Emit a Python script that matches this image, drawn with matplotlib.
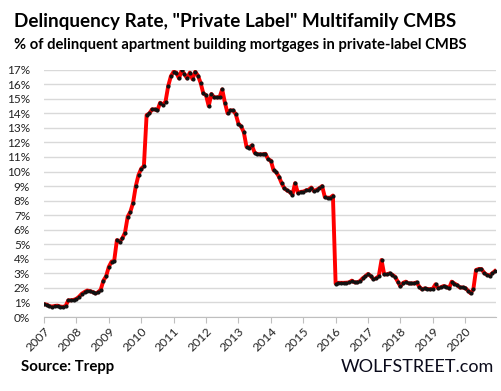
import numpy as np
import matplotlib
matplotlib.use("Agg")
import matplotlib.pyplot as plt
from matplotlib.ticker import FixedLocator

# monthly delinquency rate (%), Jan 2007 .. Dec 2020
rate_2007_2010 = [0.88, 0.85, 0.75, 0.72, 0.76, 0.78, 0.72, 0.70, 0.75, 1.15, 1.15, 1.18,
                  1.25, 1.40, 1.60, 1.72, 1.82, 1.78, 1.72, 1.62, 1.70, 1.88, 2.50, 2.80,
                  3.45, 3.80, 3.87, 5.29, 5.17, 5.40, 5.80, 6.90, 7.24, 7.86, 9.00, 9.76,
                  10.20, 10.38, 13.88, 13.99, 14.27, 14.27, 14.20, 14.73, 14.60, 14.80, 15.88, 16.56]
rate_2011_2012 = [16.86, 16.80, 16.40, 16.97, 16.70, 16.40, 16.80, 16.35, 16.86, 16.60, 16.10, 15.37,
                  15.25, 14.50, 15.33, 15.10, 15.10, 15.10, 15.65, 14.73]
rate_2012_2015 = [14.00, 14.20, 14.20, 13.95,
                  13.30, 13.10, 12.70, 11.70, 11.65, 11.80, 11.30, 11.20, 11.18, 11.18, 11.22, 10.85,
                  10.75, 10.10, 9.95, 9.65, 9.20, 8.85, 8.70, 8.60, 8.40, 9.20, 8.55, 8.60,
                  8.62, 8.70, 8.75, 8.90, 8.65, 8.75, 8.85, 9.00, 8.25, 8.20, 8.20, 8.35]
rate_2016_2020 = [2.30, 2.35, 2.35, 2.35, 2.36, 2.38, 2.50, 2.38, 2.38, 2.47, 2.66, 2.80,
                  2.96, 2.82, 2.60, 2.66, 2.82, 3.92, 2.93, 2.93, 3.00, 2.90, 2.77, 2.43,
                  2.10, 2.35, 2.43, 2.31, 2.31, 2.31, 2.38, 2.08, 1.90, 1.97, 1.93, 1.90,
                  1.95, 2.25, 1.97, 2.05, 2.13, 2.08, 1.97, 2.43, 2.30, 2.20, 2.03, 2.03,
                  2.00, 1.81, 1.63, 1.90, 3.23, 3.30, 3.30, 3.04, 2.90, 2.85, 3.00, 3.16]

rates = np.array(rate_2007_2010 + rate_2011_2012 + rate_2012_2015 + rate_2016_2020)
dates = 2007 + np.arange(len(rates)) / 12.0

years = list(range(2007, 2021))
pct_ticks = list(range(0, 18))

title = 'Delinquency Rate, "Private Label" Multifamily CMBS'
subtitle = "% of delinquent apartment building mortgages in private-label CMBS"

plt.rcParams["font.family"] = ["Lato", "DejaVu Sans"]

fig = plt.figure(figsize=(5.01, 3.91), dpi=100)
ax = fig.add_axes([44 / 501, 1 - 317 / 391, (496 - 44) / 501, (317 - 69.7) / 391])

ax.plot(dates, rates, color="#ff0000", lw=2.8, zorder=3, solid_joinstyle="round")
ax.plot(dates, rates, ls="none", marker="o", ms=2.0, color="#111111", zorder=4)

ax.set_xlim(2007, 2020.95)
ax.set_ylim(0, 17)
ax.yaxis.set_major_locator(FixedLocator(pct_ticks))
ax.set_yticklabels([f"{v}%" for v in pct_ticks], fontsize=8.5, color="#222222")
ax.xaxis.set_major_locator(FixedLocator(years))
ax.set_xticklabels([str(y) for y in years], rotation=45, ha="right",
                   rotation_mode="anchor", fontsize=8.8, color="#222222")

ax.grid(axis="y", color="#d9d9d9", lw=1)
ax.set_axisbelow(True)
for s in ["top", "right", "left"]:
    ax.spines[s].set_visible(False)
ax.spines["bottom"].set_color("#bfbfbf")
ax.tick_params(axis="y", length=0, pad=10)
ax.tick_params(axis="x", length=4, color="#bfbfbf", pad=2)

fig.text(14 / 501, 1 - 21 / 391, title, fontsize=13.6, fontweight="bold", va="center")
fig.text(14 / 501, 1 - 45 / 391, subtitle, fontsize=10.6, fontweight="bold", va="center")
fig.text(21 / 501, 1 - 367 / 391, "Source: Trepp", fontsize=10.8, fontweight="bold", va="center")
fig.text(494 / 501, 1 - 367 / 391, "WOLFSTREET.com", fontsize=13, ha="right", va="center",
         color="#0a0a1a")

fig.savefig("out.png", dpi=100)
